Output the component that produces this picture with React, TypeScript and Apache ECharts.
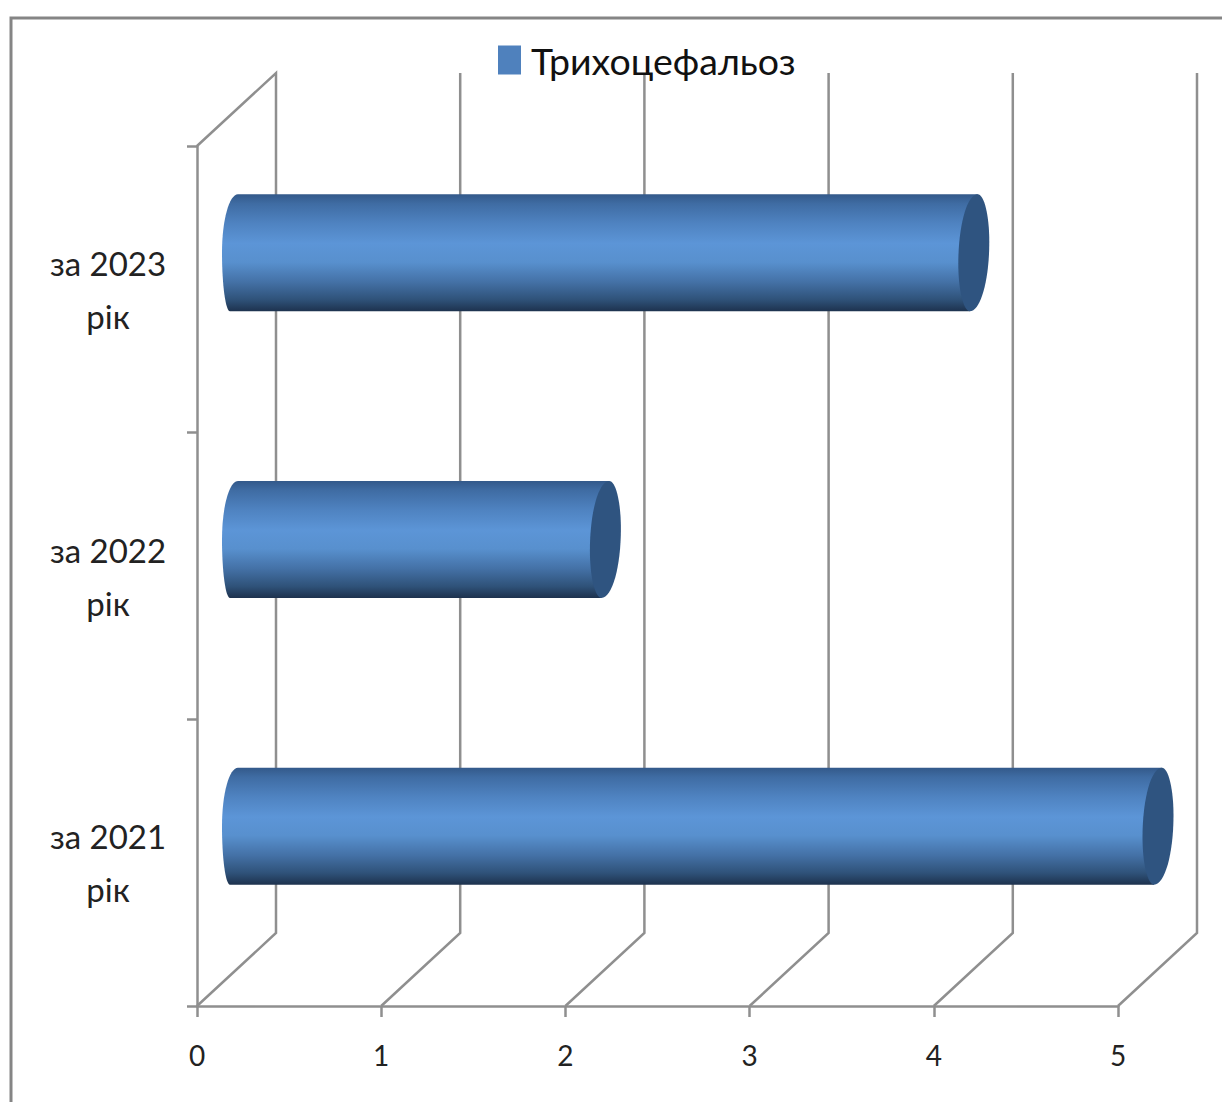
import React, { useEffect, useRef } from "react";
import * as echarts from "echarts";

const seriesName = "Трихоцефальоз";
const categories = ["за 2021\nрік", "за 2022\nрік", "за 2023\nрік"];
const values = [5, 2, 4];
const ticks = [0, 1, 2, 3, 4, 5];

const FONT = 'Lato, "Noto Sans", sans-serif';
const LINE = "#8f8f8f";
const WALL_DX = 79;
const WALL_DY = 73;
const BAR_DX_START = 37;
const BAR_DX_END = 40;
const BAR_DY = -36.5;
const BAR_BAND = 0.408;
const CAP_RX = 15.5;
const END_RX = 12;
const SKEW = 4;
const CAP_SAG = 11;
const K = 0.5523;

export default function App() {
  const ref = useRef<HTMLDivElement>(null);

  useEffect(() => {
    const chart = echarts.init(ref.current!, null, { renderer: "svg" });

    const bodyFill = new echarts.graphic.LinearGradient(0, 0, 0, 1, [
      { offset: 0, color: "#33598a" },
      { offset: 0.08, color: "#3f6ca3" },
      { offset: 0.25, color: "#4f83c1" },
      { offset: 0.42, color: "#5c95d7" },
      { offset: 0.58, color: "#5890ce" },
      { offset: 0.75, color: "#4471a6" },
      { offset: 0.9, color: "#2f5279" },
      { offset: 1, color: "#1d324e" },
    ]);

    chart.setOption({
      animation: false,
      backgroundColor: "#ffffff",
      graphic: [
        {
          type: "polyline",
          silent: true,
          shape: { points: [[11, 1102], [11, 18], [1222, 18]] },
          style: { stroke: "#858585", lineWidth: 3, fill: "none" },
        },
      ],
      legend: {
        left: 498,
        top: 41,
        padding: 0,
        data: [{ name: seriesName, icon: "rect", itemStyle: { color: "#4f81bd" } }],
        itemWidth: 23,
        itemHeight: 29,
        textStyle: {
          fontFamily: FONT,
          fontSize: 37.5,
          color: "#111111",
          padding: [0, 0, 0, 5],
        },
      },
      grid: { left: 197, top: 146, width: 921, height: 860, containLabel: false },
      xAxis: {
        type: "value",
        min: 0,
        max: 5,
        interval: 1,
        splitLine: { show: false },
        axisLine: { show: true, lineStyle: { color: LINE, width: 2.5 } },
        axisTick: { show: true, length: 11, lineStyle: { color: LINE, width: 2.5 } },
        axisLabel: { margin: 35, fontFamily: FONT, fontSize: 28, color: "#222222" },
      },
      yAxis: {
        type: "category",
        data: categories,
        axisLine: { show: true, lineStyle: { color: LINE, width: 2.5 } },
        axisTick: { show: true, length: 10, lineStyle: { color: LINE, width: 2.5 } },
        axisLabel: {
          margin: 89,
          align: "center",
          fontFamily: FONT,
          fontSize: 33,
          lineHeight: 53,
          color: "#222222",
          interval: 0,
        },
      },
      series: [
        {
          // receding wall and floor lines of the 3D frame
          type: "custom",
          name: "frame",
          silent: true,
          clip: false,
          z: 1,
          encode: { x: 0, y: 1 },
          data: ticks.map((t) => [t, 0]),
          renderItem: (params: any, api: any) => {
            const v = api.value(0);
            const x = api.coord([v, 0])[0];
            const cs = params.coordSys;
            const top = cs.y;
            const bottom = cs.y + cs.height;
            const lineStyle = { stroke: LINE, lineWidth: 2.5, fill: "none" };
            const points = [
              [x, bottom],
              [x + WALL_DX, bottom - WALL_DY],
              [x + WALL_DX, top - WALL_DY],
            ];
            if (v === 0) points.push([x, top]);
            return { type: "polyline", shape: { points }, style: lineStyle };
          },
        },
        {
          // horizontal cylinders
          type: "custom",
          name: seriesName,
          silent: true,
          clip: false,
          z: 2,
          encode: { x: 0, y: 1 },
          data: values.map((v, i) => [v, i]),
          renderItem: (_params: any, api: any) => {
            const end = api.coord([api.value(0), api.value(1)]);
            const start = api.coord([0, api.value(1)]);
            const h = api.size([0, 1])[1] * BAR_BAND;
            const cy = end[1] + BAR_DY;
            const t = cy - h / 2;
            const b = cy + h / 2;
            const xL = start[0] + BAR_DX_START;
            const xR = end[0] + BAR_DX_END;

            // left rim of the tube: top tangent, outermost point, bottom tangent
            const lx = xL - END_RX;
            const ky = (h / 2) * K;
            const body =
              `M ${xL + SKEW} ${t} L ${xR + SKEW} ${t} L ${xR - SKEW} ${b} L ${xL - SKEW} ${b} ` +
              `C ${xL - SKEW - (END_RX - SKEW) * K} ${b} ${lx} ${cy + ky} ${lx} ${cy} ` +
              `C ${lx} ${cy - ky} ${xL + SKEW - (END_RX + SKEW) * K} ${t} ${xL + SKEW} ${t} Z`;

            // end face, leaning slightly so that its top sits further right
            const rx = xR + CAP_RX;
            const ex = xR - CAP_RX;
            const upper = cy - CAP_SAG;
            const lower = cy + CAP_SAG;
            const cap =
              `M ${xR + SKEW} ${t} ` +
              `C ${xR + SKEW + (CAP_RX - SKEW) * K} ${t} ${rx} ${upper - (upper - t) * K} ${rx} ${upper} ` +
              `C ${rx} ${upper + (b - upper) * K} ${xR - SKEW + (CAP_RX + SKEW) * K} ${b} ${xR - SKEW} ${b} ` +
              `C ${xR - SKEW - (CAP_RX - SKEW) * K} ${b} ${ex} ${lower + (b - lower) * K} ${ex} ${lower} ` +
              `C ${ex} ${lower - (lower - t) * K} ${xR + SKEW - (CAP_RX + SKEW) * K} ${t} ${xR + SKEW} ${t} Z`;
            return {
              type: "group",
              children: [
                { type: "path", shape: { pathData: body }, style: { fill: bodyFill } },
                { type: "path", shape: { pathData: cap }, style: { fill: "#2f5480" } },
              ],
            };
          },
        },
      ],
    });

    return () => chart.dispose();
  }, []);

  return (
    <div
      ref={ref}
      style={{ position: "absolute", left: 0, top: 0, width: 1222, height: 1102 }}
    />
  );
}
